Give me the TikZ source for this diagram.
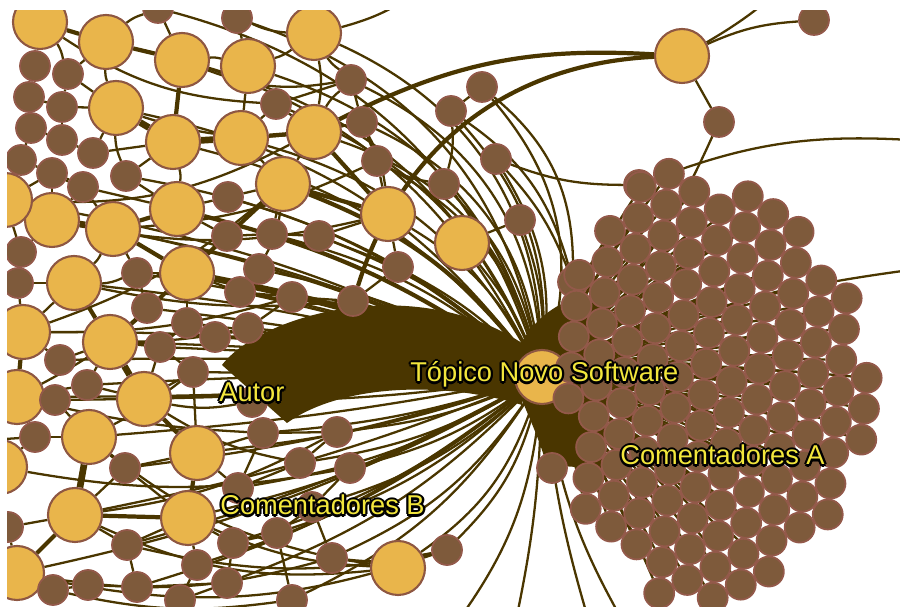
\documentclass[tikz,border=0pt]{standalone}
\usepackage{fontspec}
\setsansfont{Liberation Sans}

\definecolor{fio}{HTML}{4A3600}
\definecolor{marrom}{HTML}{7E5A3B}
\definecolor{bordaM}{HTML}{93594A}
\definecolor{amarelo}{HTML}{E9B54B}
\definecolor{bordaA}{HTML}{8E5742}
\definecolor{letra}{HTML}{F2E63C}

\pgfdeclarelayer{fundo}
\pgfsetlayers{fundo,main}

\tikzset{
  coment/.style={circle,draw=bordaM,fill=marrom,line width=1pt,minimum size=0.6cm,inner sep=0pt},
  topico/.style={circle,draw=bordaA,fill=amarelo,line width=1.2pt,minimum size=1.08cm,inner sep=0pt},
  fino/.style={draw=fio,line width=1.3pt},
  medio/.style={draw=fio,line width=2.4pt},
  grosso/.style={draw=fio,line width=3.8pt},
  rotulo/.style={font=\sffamily\fontsize{15.5}{16}\selectfont,inner sep=0pt,anchor=base west,text=letra}
}

% yellow text with a black rim
\newcommand\legenda[3]{%
  \foreach \dx/\dy in {-1.3/0,1.3/0,0/-1.3,0/1.3,-.9/-.9,.9/.9,-.9/.9,.9/-.9}
    {\node[rotulo,text=black,xshift=\dx pt,yshift=\dy pt] at (#2) {#3};}
  \node[rotulo] (#1) at (#2) {#3};
}

\begin{document}
\begin{tikzpicture}[x=0.02cm,y=-0.02cm]
\useasboundingbox (0,0) rectangle (900,607);

% topicos
\foreach \n/\x/\y in {t1/40/22,t2/106/42,t3/182/60,t4/248/66,t5/314/33,t6/116/108,
  t7/173/142,t8/241/138,t9/314/132,t10/283/184,t11/388/214,t12/177/209,t13/52/220,
  t14/113/229,t15/5/200,t16/74/283,t17/187/273,t18/462/243,t19/682/56,t20/23/332,
  t21/110/342,t22/17/397,t23/144/399,t24/89/437,t25/197/453,t26/75/515,t27/188/518,
  t28/17/573,t29/0/467,t30/398/568}
  \node[topico] (\n) at (\x,\y) {};
\node[topico] (hub) at (542,377) {};

% comentadores B
\foreach \n/\x/\y in {c1/237/18,c2/158/8,c3/35/66,c4/68/74,c5/29/97,c6/62/107,c7/31/128,
  c8/62/140,c9/21/160,c10/93/153,c11/52/173,c12/126/176,c13/83/187,c14/351/80,c15/276/104,
  c16/362/122,c17/377/161,c18/451/111,c19/482/87,c20/496/159,c21/444/184,c22/520/220,
  c23/398/267,c24/353/301,c25/228/197,c26/227/236,c27/272/234,c28/319/236,c29/259/269,
  c30/137/273,c31/21/252,c32/18/283,c33/240/292,c34/292/297,c35/147/308,c36/187/323,
  c37/215/337,c38/248/328,c39/160/347,c40/60/360,c41/87/385,c42/193/372,c43/55/400,
  c44/35/437,c45/252/402,c46/263/433,c47/337/432,c48/300/463,c49/350/468,c50/125/468,
  c51/238/488,c52/312/507,c53/277/533,c54/233/543,c55/127/545,c56/197/565,c57/332/558,
  c58/447/550,c59/53/590,c60/88/585,c61/137/587,c62/227/583,c63/180/600,c64/292/600,
  c65/8/527,c66/814/20,c67/719/122,c68/639/185,c69/573/282,c71/552/468}
  \node[coment] (\n) at (\x,\y) {};

% comentadores A
\foreach \i in {-10,...,10}{
  \foreach \j in {-10,...,10}{
    \pgfmathsetmacro\px{650+31*((\i)*cos(-25)+(\j)*cos(35))}
    \pgfmathsetmacro\py{390+31*((\i)*sin(-25)+(\j)*sin(35))}
    \pgfmathsetmacro\ok{and(and(((\px-650)/100)^2+((\py-390)/100)^2<4.9,\px>566),
      and(1.1*(\px-565)+0.8*(\py-285)>0,0.95*(\px-568)-0.87*(\py-495)>0))}
    \ifdim\ok pt>0.5pt
      \node[coment] (a\i x\j) at (\px,\py) {};
      \begin{pgfonlayer}{fundo}
        \draw[fino] (hub) to[bend left=5] (a\i x\j);
      \end{pgfonlayer}
    \fi
  }
}

\coordinate (n1) at (780,-10);
\coordinate (n2) at (420,-10);
\coordinate (n3) at (200,-10);
\coordinate (n4) at (100,-10);
\coordinate (e1) at (910,140);
\coordinate (e2) at (910,270);
\coordinate (s1) at (515,625);
\coordinate (s2) at (455,625);
\coordinate (s3) at (625,625);
\coordinate (s4) at (590,625);
\coordinate (w1) at (-10,140);
\coordinate (w2) at (-10,300);
\coordinate (w3) at (-10,440);
\coordinate (w4) at (-10,560);

\begin{pgfonlayer}{fundo}
\foreach \a/\b/\d in {t1/c3/0,t1/c4/10,t2/c4/0,t2/t6/-10,t2/c2/10,t3/c2/0,t3/t4/10,
  t4/c1/0,t4/t5/-10,t5/c1/10,t5/c14/-10,t5/t9/10,t6/c6/0,t6/c10/0,t6/c4/0,t6/c12/-10,
  t7/c12/0,t7/t12/10,t7/c10/0,t8/c15/0,t8/t10/0,t8/t4/0,t9/c15/0,t9/c16/0,t9/c14/10,
  t10/c25/0,t10/c27/0,t10/c29/10,t10/t9/0,t11/c17/0,t11/c23/0,t11/c16/-10,t11/c28/0,
  t12/c13/0,t12/c25/0,t12/c26/0,t12/c12/0,t13/c11/0,t13/c31/0,t13/c13/0,t14/c30/0,
  t14/c13/0,t14/t16/10,t16/c32/0,t16/c30/-10,t16/t20/0,t17/c33/0,t17/c35/0,t17/c36/0,
  t17/c26/0,t17/c30/0,c3/c5/0,c5/c7/0,c7/c9/0,c8/c10/0,c9/c11/0,c11/t15/0,c6/c8/0,
  c4/c6/0,c5/c6/0,c7/c8/0,c9/t15/0,t15/c31/0,c31/c32/0,c32/t20/0,t20/c40/0,t21/c39/0,
  t21/c41/0,t21/c35/0,t21/c40/0,t22/c43/0,t22/c41/0,t23/c42/0,t23/c39/0,t23/c45/-10,
  t23/c41/0,t24/c44/0,t24/c50/0,t24/c43/0,t25/c46/0,t25/c51/0,t25/c42/0,t25/c50/0,
  t26/c55/0,t26/c65/0,t26/c50/0,t27/c54/0,t27/c56/0,t27/c55/0,t27/c50/0,t28/c59/0,
  t28/c65/0,t29/c44/0,c59/c60/0,c60/c61/0,c61/c62/0,c62/c63/0,c56/c63/0,c55/c61/0,
  c54/c53/0,c53/c52/0,c51/c48/0,c48/c47/0,c49/c52/0,c46/c47/0,c46/c51/0,c57/c58/-10,
  c57/t30/0,c52/c57/0,c62/c54/0,c64/c53/0,c30/c35/0,c36/c37/0,c37/c38/0,c38/c34/0,
  c33/c34/0,c26/c27/0,c27/c28/0,c28/c23/0,c29/c33/0,c39/c42/0,c36/c39/0,c14/c16/0,
  c16/c17/0,c17/c21/-10,c18/c19/0,c18/c21/10,c15/c14/0,c22/t18/0,c24/c23/0,c34/c24/0,
  t15/t9/-15,t13/t11/-12,t20/t10/-10,t16/c24/-8,t22/t17/-8,t20/c34/-8,t14/c17/-10,
  t6/c16/-15,t1/c15/-15,t3/c14/-15,t21/c38/-5,t24/c42/-5,t26/c47/-10,t28/c58/-15,
  t26/t30/-15,t24/c57/-12,t29/c49/-10,c55/c58/-12,t27/t30/-10,c59/c64/-10,t28/c57/-12,
  t23/c48/-10,t22/c46/-5,t19/c66/10,t19/n1/-5,t19/c67/0,c67/hub/10,c68/e1/12,
  c20/c68/-10,hub/e2/8,c19/c69/25,c18/c69/20,c20/c69/10,t5/n2/-10,t1/n4/5,c2/n3/-5,
  c44/w3/0,hub/s1/5,hub/s2/15,hub/s3/-10,hub/s4/-5}
  \draw[fino] (\a) to[bend left=\d] (\b);
\foreach \a/\b/\d in {t1/t2/0,t2/t3/0,t3/t7/0,t8/t9/0,t9/t11/0,t12/t14/0,t14/t17/0,
  t16/t21/0,t20/t22/0,t23/t25/0,t26/t27/0,t26/t28/0,t10/t11/0,t25/t27/0,t17/t10/0,
  c13/c11/0,t19/t9/-15,t19/c24/-35,t15/w1/0,t28/w4/0}
  \draw[medio] (\a) to[bend left=\d] (\b);
\foreach \a/\b/\d in {t13/t14/0,t21/t23/0,t24/t26/0,t6/t7/0,t7/t8/0,t20/w2/0}
  \draw[grosso] (\a) to[bend left=\d] (\b);
% leque do topico
\foreach \b/\d in {c14/30,c16/28,c17/22,c18/22,c19/28,c20/18,c21/15,c22/10,c23/8,
  c24/5,t9/28,t11/15,t18/8,t5/32,c28/10,c27/12,t8/22,t4/28,t3/25,c15/22,c1/30,c2/28,
  t2/25,c25/12,c29/8,t7/18,t6/20,c12/15,c34/4,c38/4,c37/3,c33/3,c36/2,c39/2,c42/0,
  t21/3,t20/5,t16/5,t13/8,t15/8,t14/6,c35/3,c30/5,c40/3,c41/2,t23/0,c45/-3,c46/-6,
  c47/-8,c48/-10,c49/-10,c52/-12,c53/-12,c57/-15,c58/-15,t30/-18,c64/-15,c62/-12,
  t27/-8,t25/-6,c51/-10,c54/-10,c56/-10,t26/-5,c71/-10,t24/-3,t22/-2,c43/-2,c50/-5,
  c55/-6,t28/-8,c61/-10}
  \draw[fino] (hub) to[bend right=\d] (\b);
\draw[medio] (hub) to[bend right=15] (t10);
\draw[medio] (hub) to[bend right=10] (t12);
\draw[grosso] (hub) to[bend right=5] (t17);
% autor
\fill[fio] (222,365) .. controls (260,315) and (420,268) .. (532,350)
  -- (522,405) .. controls (440,380) and (340,385) .. (287,423) -- cycle;
% feixe para os comentadores A
\fill[fio] (520,345) .. controls (540,310) and (570,295) .. (600,295)
  -- (605,470) .. controls (585,470) and (565,462) .. (548,470)
  .. controls (540,440) and (530,420) .. (522,400) -- cycle;
\end{pgfonlayer}

\legenda{autor}{219,402}{Autor}
\legenda{topiconovo}{410,382}{Tópico Novo Software}
\legenda{comentA}{620,465}{Comentadores A}
\legenda{comentB}{220,515}{Comentadores B}

\fill[white] (0,0) rectangle (7,607);
\fill[white] (0,0) rectangle (900,10);
\end{tikzpicture}
\end{document}
